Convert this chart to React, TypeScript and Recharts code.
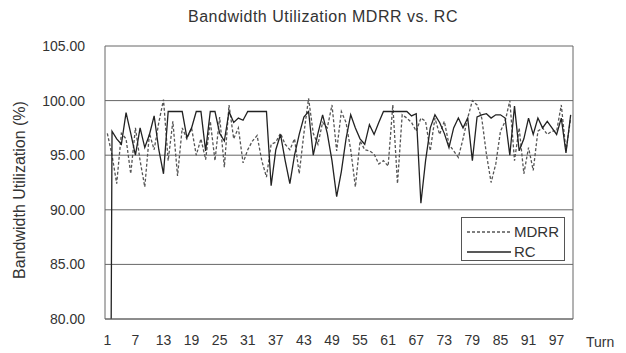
import { LineChart, Line, XAxis, YAxis, CartesianGrid } from "recharts";

// turn numbers on the x axis
const TURNS = Array.from({ length: 100 }, (_, i) => i + 1);
const X_LABELS = [1, 7, 13, 19, 25, 31, 37, 43, 49, 55, 61, 67, 73, 79, 85, 91, 97];
const Y_TICKS = [80, 85, 90, 95, 100, 105];

const MDRR = [
  97.0, 95.0, 92.4, 97.0, 96.5, 93.3, 97.5, 94.5, 92.1, 97.0,
  95.5, 98.0, 100.1, 94.5, 98.1, 93.1, 97.5, 96.5, 97.5, 95.0,
  96.5, 94.6, 98.1, 94.5, 98.5, 93.9, 99.6, 96.5, 97.5, 94.3,
  95.5, 96.3, 96.8, 94.5, 93.0, 96.0, 96.2, 97.0, 96.0, 95.5,
  96.5, 93.3, 97.0, 100.2, 97.0, 96.0, 98.0, 97.5, 99.6, 95.4,
  99.0, 98.0, 95.5, 92.1, 96.3, 95.5, 95.4, 95.1, 94.2, 94.5,
  94.0, 99.6, 92.4, 98.7, 98.4, 98.0, 97.2, 98.4, 98.1, 95.4,
  98.4, 96.9, 98.1, 96.0, 95.4, 94.8, 96.5, 98.4, 100.0, 99.6,
  98.4, 95.1, 92.5, 94.2, 97.2, 98.1, 100.0, 94.5, 97.5, 93.3,
  95.7, 93.6, 97.2, 97.5, 96.9, 97.2, 97.2, 99.6, 95.4, 98.4,
];

const RC = [
  0, 97.2, 96.5, 96.0, 98.9, 97.0, 95.0, 97.5, 95.7, 96.9,
  98.6, 95.5, 93.3, 99.0, 99.0, 99.0, 99.0, 96.6, 97.5, 99.0,
  99.0, 95.4, 99.0, 99.0, 97.0, 96.3, 99.0, 98.0, 98.4, 98.2,
  99.0, 99.0, 99.0, 99.0, 99.0, 92.2, 95.5, 96.9, 94.5, 92.4,
  95.0, 96.9, 98.5, 99.0, 95.0, 97.0, 98.7, 97.0, 94.5, 91.2,
  93.5, 96.5, 98.7, 97.5, 96.5, 96.0, 97.8, 96.9, 98.0, 99.0,
  99.0, 99.0, 99.0, 99.0, 99.0, 98.6, 98.8, 90.6, 94.5, 97.5,
  98.7, 98.0, 97.0, 95.7, 97.5, 98.4, 97.5, 98.4, 94.5, 98.5,
  98.7, 98.8, 98.4, 98.7, 98.7, 98.4, 95.0, 99.5, 95.4, 96.5,
  98.4, 96.9, 98.4, 97.5, 98.1, 97.5, 96.9, 98.4, 95.2, 98.7,
];

// small tick marks sit on category borders, every 3 turns
const MINOR_TICKS = Array.from({ length: 34 }, (_, i) => 0.5 + i * 3);

const data = TURNS.map((t, i) => ({ turn: t, mdrr: MDRR[i], rc: RC[i] }));

const FONT = "'Liberation Sans', Arial, sans-serif";
const TEXT = "#333";
const GRID = "#666";

function LegendBox() {
  return (
    <div style={{ position: "absolute", left: 461, top: 217, width: 104, height: 44, border: "1px solid #555", background: "#fff", boxSizing: "border-box" }}>
      <svg width={102} height={42} style={{ display: "block" }}>
        <line x1={5} x2={49} y1={14} y2={14} stroke="#555" strokeWidth={1.3} strokeDasharray="3 2" />
        <text x={52} y={19} fill={TEXT} fontSize={15} fontFamily={FONT}>MDRR</text>
        <line x1={5} x2={49} y1={34} y2={34} stroke="#222" strokeWidth={1.3} />
        <text x={52} y={39} fill={TEXT} fontSize={15} fontFamily={FONT}>RC</text>
      </svg>
    </div>
  );
}

export default function App() {
  return (
    <div style={{ position: "absolute", left: 0, top: 0, width: 626, height: 353, background: "#fff", fontFamily: FONT }}>
      <div style={{ position: "absolute", left: 0, width: 646, top: 8, textAlign: "center", fontSize: 16, letterSpacing: 0.5, color: TEXT }}>
        Bandwidth Utilization MDRR vs. RC
      </div>
      <div style={{ position: "absolute", left: 20, top: 190, width: 0, height: 0 }}>
        <div style={{ position: "absolute", transform: "translate(-50%, -50%) rotate(-90deg)", whiteSpace: "nowrap", fontSize: 16, color: TEXT }}>
          Bandwidth Utilization (%)
        </div>
      </div>
      <div style={{ position: "absolute", left: 586, top: 334, fontSize: 14, color: TEXT }}>Turn</div>

      <LineChart width={626} height={353} data={data} margin={{ top: 46, right: 0, bottom: 0, left: 0 }}>
        <CartesianGrid vertical={false} stroke={GRID} yAxisId="l" />
        <XAxis
          dataKey="turn"
          type="number"
          domain={[0.5, 100.5]}
          ticks={X_LABELS}
          interval={0}
          height={34}
          tickLine={false}
          tickMargin={10}
          axisLine={{ stroke: GRID }}
          tick={{ fill: TEXT, fontSize: 14, fontFamily: FONT }}
        />
        <XAxis
          xAxisId="m"
          dataKey="turn"
          type="number"
          domain={[0.5, 100.5]}
          ticks={MINOR_TICKS}
          interval={0}
          height={0}
          mirror
          tickSize={4}
          tickFormatter={() => ""}
          axisLine={false}
          tickLine={{ stroke: GRID }}
        />
        <YAxis
          yAxisId="l"
          width={105}
          domain={[80, 105]}
          ticks={Y_TICKS}
          allowDataOverflow
          tickFormatter={(v) => v.toFixed(2)}
          tickLine={false}
          tickMargin={14}
          axisLine={{ stroke: GRID }}
          tick={{ fill: TEXT, fontSize: 14, fontFamily: FONT }}
        />
        <YAxis yAxisId="r" orientation="right" width={53} domain={[80, 105]} tick={false} tickLine={false} axisLine={{ stroke: GRID }} />
        <Line yAxisId="l" dataKey="mdrr" stroke="#555" strokeWidth={1.3} strokeDasharray="3 2" dot={false} isAnimationActive={false} />
        <Line yAxisId="l" dataKey="rc" stroke="#222" strokeWidth={1.3} dot={false} isAnimationActive={false} />
      </LineChart>
      <LegendBox />
    </div>
  );
}
